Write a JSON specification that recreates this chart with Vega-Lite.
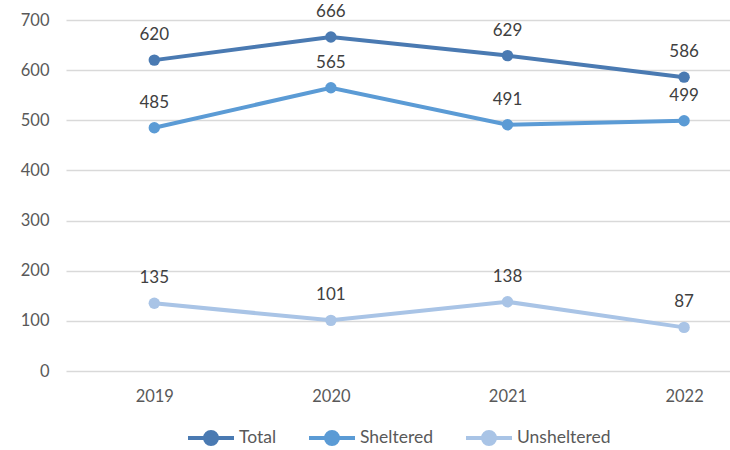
{
  "$schema": "https://vega.github.io/schema/vega-lite/v6.json",
  "autosize": "none",
  "width": 664,
  "height": 351,
  "padding": {"left": 66, "top": 20, "right": 0, "bottom": 79},
  "background": "white",
  "config": {
    "view": {"stroke": null},
    "font": "Lato",
    "legend": {"layout": {"bottom": {"anchor": "middle"}}}
  },
  "data": {
    "values": [
      {"year": 2019, "series": "Total", "value": 620},
      {"year": 2020, "series": "Total", "value": 666},
      {"year": 2021, "series": "Total", "value": 629},
      {"year": 2022, "series": "Total", "value": 586},
      {"year": 2019, "series": "Sheltered", "value": 485},
      {"year": 2020, "series": "Sheltered", "value": 565},
      {"year": 2021, "series": "Sheltered", "value": 491},
      {"year": 2022, "series": "Sheltered", "value": 499},
      {"year": 2019, "series": "Unsheltered", "value": 135},
      {"year": 2020, "series": "Unsheltered", "value": 101},
      {"year": 2021, "series": "Unsheltered", "value": 138},
      {"year": 2022, "series": "Unsheltered", "value": 87}
    ]
  },
  "encoding": {
    "x": {
      "field": "year", "type": "quantitative",
      "scale": {"domain": [2018.5, 2022.26], "nice": false, "zero": false},
      "axis": {"values": [2019, 2020, 2021, 2022], "format": "d", "title": null, "grid": false, "domain": false, "ticks": false, "labelFontSize": 16.5, "labelColor": "#595959", "labelPadding": 17, "labelFont": "Lato"}
    },
    "y": {
      "field": "value", "type": "quantitative",
      "scale": {"domain": [0, 700], "nice": false},
      "axis": {"values": [0, 100, 200, 300, 400, 500, 600, 700], "title": null, "domain": false, "ticks": false, "gridColor": "#d9d9d9", "gridWidth": 1.5, "labelFontSize": 16.5, "labelColor": "#595959", "labelPadding": 17, "labelFont": "Lato"}
    },
    "color": {
      "field": "series", "type": "nominal",
      "scale": {"domain": ["Total", "Sheltered", "Unsheltered"], "range": ["#4a7ab2", "#5b9bd5", "#a9c4e6"]},
      "legend": {
        "title": null, "orient": "bottom", "direction": "horizontal", "offset": 8,
        "symbolType": "M-1,0 L1,0 M-0.26,0 A0.26,0.26 0 1,1 0.26,0 A0.26,0.26 0 1,1 -0.26,0",
        "symbolSize": 2116, "symbolStrokeWidth": 4,
        "labelFontSize": 17.5, "labelColor": "#595959", "labelFont": "Lato",
        "columnPadding": 24, "labelOffset": 3
      }
    }
  },
  "layer": [
    {"mark": {"type": "line", "strokeWidth": 4}},
    {"mark": {"type": "point", "filled": true, "size": 130, "opacity": 1}},
    {
      "mark": {"type": "text", "baseline": "middle", "dy": -25, "fontSize": 17, "color": "#404040", "font": "Lato"},
      "encoding": {"text": {"field": "value", "type": "quantitative"}, "color": {"value": "#404040"}}
    }
  ]
}
